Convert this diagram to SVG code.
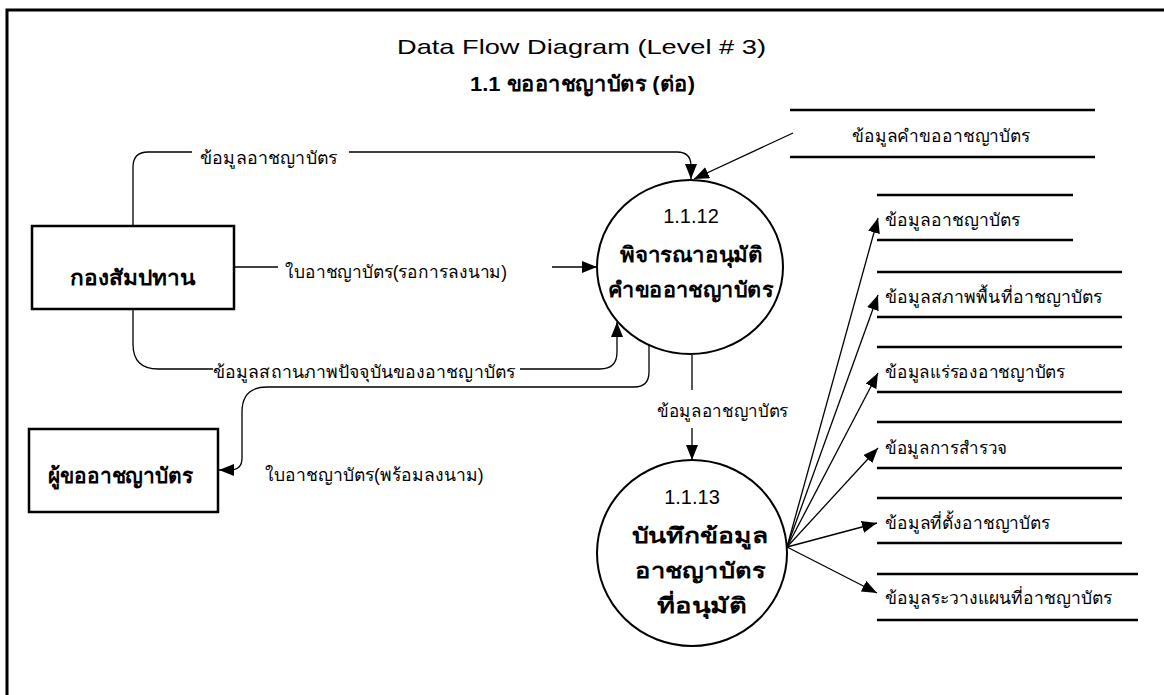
<svg xmlns="http://www.w3.org/2000/svg" width="1164" height="695" viewBox="0 0 1164 695">
<style>
text{font-family:"Liberation Sans","Noto Sans","DejaVu Sans",sans-serif;fill:#000}
.t{font-size:21px}
.lbl{font-size:17.5px}
.nd{font-size:21px;font-weight:bold}
.num{font-size:20px}
.box{fill:#fff;stroke:#000;stroke-width:2.5}
.proc{fill:#fff;stroke:#000;stroke-width:2}
.ds{stroke:#000;stroke-width:2.5;fill:none}
.c{fill:none;stroke:#000;stroke-width:1.3}
</style>
<defs>
<marker id="ah" markerUnits="userSpaceOnUse" markerWidth="16" markerHeight="12" refX="15" refY="6" orient="auto">
<path d="M0,0 L15,6 L0,12 Z" fill="#000"/>
</marker>
</defs>
<rect width="1164" height="695" fill="#fff"/>
<path d="M7,700 V10 H1170" fill="none" stroke="#000" stroke-width="3"/>
<g id="title">
<text class="t" x="397" y="54" textLength="369" lengthAdjust="spacingAndGlyphs">Data Flow Diagram  (Level # 3)</text>
<text class="t" x="470" y="91" textLength="225" lengthAdjust="spacingAndGlyphs" font-weight="bold">1.1 ขออาชญาบัตร (ต่อ)</text>
</g>
<g id="connectors">
<path class="c" d="M133,226 V167 Q133,152 148,152 H192"/>
<path class="c" d="M349,152 H677 Q691,152 691,166 V179" marker-end="url(#ah)"/>
<path class="c" d="M793,133 L694,179" marker-end="url(#ah)"/>
<path class="c" d="M234,267 H278"/>
<path class="c" d="M552,267 H597" marker-end="url(#ah)"/>
<path class="c" d="M133,309 V344 Q133,369 158,369 H213"/>
<path class="c" d="M520,369 H600 Q617,369 617,352 V322" marker-end="url(#ah)"/>
<path class="c" d="M649,345 V372 Q649,387 634,387 H267 Q242,387 242,412 V458 Q242,470 230,470 H219" marker-end="url(#ah)"/>
<path class="c" d="M692,355 V390"/>
<path class="c" d="M692,428 V460" marker-end="url(#ah)"/>
<path class="c" d="M787,547 L878,218" marker-end="url(#ah)"/>
<path class="c" d="M787,547 L878,295" marker-end="url(#ah)"/>
<path class="c" d="M787,547 L878,373" marker-end="url(#ah)"/>
<path class="c" d="M787,547 L878,448" marker-end="url(#ah)"/>
<path class="c" d="M787,547 L877,523" marker-end="url(#ah)"/>
<path class="c" d="M787,547 L877,593" marker-end="url(#ah)"/>
<text class="lbl" x="200" y="164" textLength="137" lengthAdjust="spacingAndGlyphs">ข้อมูลอาชญาบัตร</text>
<text class="lbl" x="285" y="278" textLength="222" lengthAdjust="spacingAndGlyphs">ใบอาชญาบัตร(รอการลงนาม)</text>
<text class="lbl" x="213" y="378" textLength="302" lengthAdjust="spacingAndGlyphs">ข้อมูลสถานภาพปัจจุบันของอาชญาบัตร</text>
<text class="lbl" x="657" y="417" textLength="131" lengthAdjust="spacingAndGlyphs">ข้อมูลอาชญาบัตร</text>
<text class="lbl" x="265" y="481">ใบอาชญาบัตร(พร้อมลงนาม)</text>
</g>
<g id="ext-kongsampatan">
<rect class="box" x="32" y="226" width="202" height="83"/>
<text class="nd" x="70" y="285" textLength="125" lengthAdjust="spacingAndGlyphs">กองสัมปทาน</text>
</g>
<g id="ext-applicant">
<rect class="box" x="29" y="429" width="189" height="83"/>
<text class="nd" x="48" y="483" textLength="145" lengthAdjust="spacingAndGlyphs">ผู้ขออาชญาบัตร</text>
</g>
<g id="p-1-1-12">
<ellipse class="proc" cx="690" cy="267" rx="93" ry="87"/>
<text class="num" x="691" y="223" text-anchor="middle">1.1.12</text>
<text class="nd" x="620" y="262" textLength="143" lengthAdjust="spacingAndGlyphs">พิจารณาอนุมัติ</text>
<text class="nd" x="608" y="297" textLength="165" lengthAdjust="spacingAndGlyphs">คำขออาชญาบัตร</text>
</g>
<g id="p-1-1-13">
<ellipse class="proc" cx="692" cy="553" rx="95" ry="93"/>
<text class="num" x="692" y="504" text-anchor="middle">1.1.13</text>
<text class="nd" x="632" y="543" textLength="136" lengthAdjust="spacingAndGlyphs">บันทึกข้อมูล</text>
<text class="nd" x="635" y="578" textLength="130" lengthAdjust="spacingAndGlyphs">อาชญาบัตร</text>
<text class="nd" x="657" y="613" textLength="90" lengthAdjust="spacingAndGlyphs">ที่อนุมัติ</text>
</g>
<g id="ds-request">
<path class="ds" d="M790,110 H1095 M790,157 H1095"/>
<text class="lbl" x="852" y="142" textLength="178" lengthAdjust="spacingAndGlyphs">ข้อมูลคำขออาชญาบัตร</text>
</g>
<g id="ds-license">
<path class="ds" d="M877,195 H1073 M877,240 H1073"/>
<text class="lbl" x="885" y="226" textLength="135" lengthAdjust="spacingAndGlyphs">ข้อมูลอาชญาบัตร</text>
</g>
<g id="ds-area">
<path class="ds" d="M877,272 H1122 M877,317 H1122"/>
<text class="lbl" x="885" y="303" textLength="217" lengthAdjust="spacingAndGlyphs">ข้อมูลสภาพพื้นที่อาชญาบัตร</text>
</g>
<g id="ds-mineral">
<path class="ds" d="M877,347 H1122 M877,392 H1122"/>
<text class="lbl" x="885" y="378" textLength="180" lengthAdjust="spacingAndGlyphs">ข้อมูลแร่รองอาชญาบัตร</text>
</g>
<g id="ds-survey">
<path class="ds" d="M877,422 H1122 M877,468 H1122"/>
<text class="lbl" x="885" y="454" textLength="122" lengthAdjust="spacingAndGlyphs">ข้อมูลการสำรวจ</text>
</g>
<g id="ds-location">
<path class="ds" d="M877,498 H1122 M877,543 H1122"/>
<text class="lbl" x="885" y="529" textLength="165" lengthAdjust="spacingAndGlyphs">ข้อมูลที่ตั้งอาชญาบัตร</text>
</g>
<g id="ds-map">
<path class="ds" d="M877,574 H1138 M877,620 H1138"/>
<text class="lbl" x="885" y="604" textLength="227" lengthAdjust="spacingAndGlyphs">ข้อมูลระวางแผนที่อาชญาบัตร</text>
</g>
</svg>
